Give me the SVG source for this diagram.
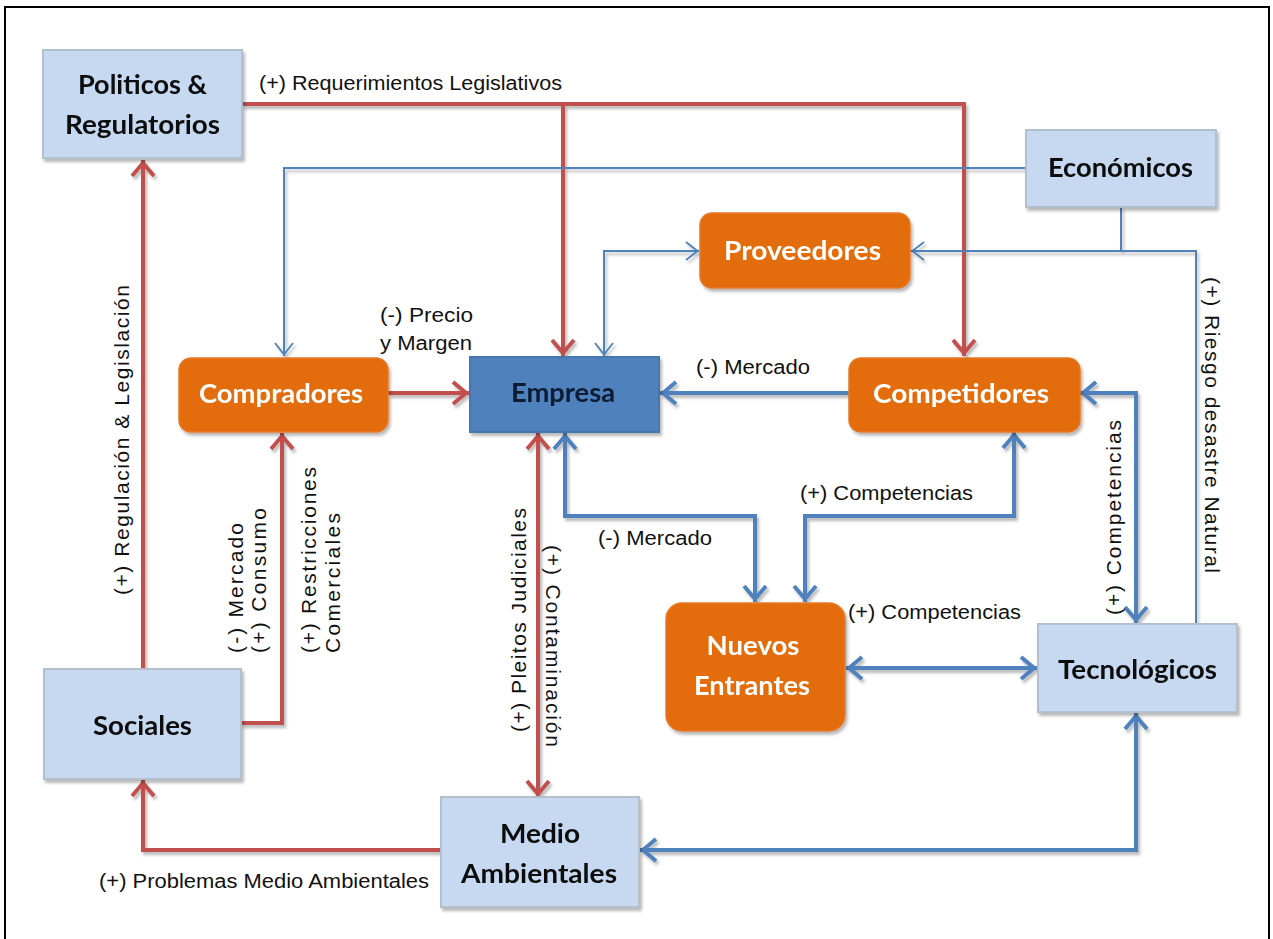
<svg xmlns="http://www.w3.org/2000/svg" width="1273" height="939" viewBox="0 0 1273 939">
  <style>
    .box-light { fill: #c6d9f1; stroke: #b4bfcc; stroke-width: 2; }
    .box-core { fill: #4f81bd; stroke: #4676b0; stroke-width: 2; }
    .box-orange { fill: #e36c0a; stroke: #e6782a; stroke-width: 1.5; }
    .t-dark { font-family: Lato, "Liberation Sans", sans-serif; font-weight: bold; font-size: 26px; fill: #0d0d0d; text-anchor: middle; }
    .t-core { font-family: Lato, "Liberation Sans", sans-serif; font-weight: bold; font-size: 26px; fill: #0b1a33; text-anchor: middle; }
    .t-white { font-family: Lato, "Liberation Sans", sans-serif; font-weight: bold; font-size: 26px; fill: #ffffff; text-anchor: middle; }
    .lbl { font-family: "Liberation Sans", Arial, sans-serif; font-size: 20px; fill: #111; }
    .vlbl { font-family: "Liberation Sans", Arial, sans-serif; font-size: 21px; fill: #111; }
    .red { fill: none; stroke: #c0504d; stroke-width: 4; }
    .blue { fill: none; stroke: #4f81bd; stroke-width: 4; }
    .thin { fill: none; stroke: #4f81bd; stroke-width: 2; }
  </style>
  <defs>
    <filter id="sh" filterUnits="userSpaceOnUse" x="0" y="0" width="1273" height="939">
      <feDropShadow dx="2" dy="3" stdDeviation="1.6" flood-color="#000" flood-opacity="0.28"/>
    </filter>
    <marker id="aRed" markerUnits="userSpaceOnUse" viewBox="-20 -15 30 30" markerWidth="30" markerHeight="30" refX="0" refY="0" orient="auto-start-reverse" overflow="visible">
      <path d="M-16,-11 L-3,0 L-16,11" fill="none" stroke="#c0504d" stroke-width="4"/>
    </marker>
    <marker id="aBlue" markerUnits="userSpaceOnUse" viewBox="-20 -15 30 30" markerWidth="30" markerHeight="30" refX="0" refY="0" orient="auto-start-reverse" overflow="visible">
      <path d="M-16,-11 L-3,0 L-16,11" fill="none" stroke="#4f81bd" stroke-width="4"/>
    </marker>
    <marker id="aThin" markerUnits="userSpaceOnUse" viewBox="-20 -15 30 30" markerWidth="30" markerHeight="30" refX="0" refY="0" orient="auto-start-reverse" overflow="visible">
      <path d="M-13,-9 L-1.5,0 L-13,9" fill="none" stroke="#4f81bd" stroke-width="1.8"/>
    </marker>
  </defs>

  <rect width="1273" height="939" fill="#ffffff"/>
  <!-- outer frame -->
  <rect x="5" y="7" width="1264" height="945" fill="none" stroke="#000" stroke-width="2"/>

  <!-- connectors -->
  <g id="connectors" filter="url(#sh)">
    <!-- red influences -->
    <path class="red" d="M242,104 H964 V356" marker-end="url(#aRed)"/>
    <path class="red" d="M563,104 V356" marker-end="url(#aRed)"/>
    <path class="red" d="M143,669 V160" marker-end="url(#aRed)"/>
    <path class="red" d="M241,723 H282 V433" marker-end="url(#aRed)"/>
    <path class="red" d="M388,393 H469" marker-end="url(#aRed)"/>
    <path class="red" d="M538,433 V797" stroke-width="3.5" marker-start="url(#aRed)" marker-end="url(#aRed)"/>
    <path class="red" d="M441,850 H143 V780" marker-end="url(#aRed)"/>
    <!-- blue thick influences -->
    <path class="blue" d="M849,393 H660" marker-end="url(#aBlue)"/>
    <path class="blue" d="M565,433 V516 H755 V602" marker-start="url(#aBlue)" marker-end="url(#aBlue)"/>
    <path class="blue" d="M1014,432 V516 H805 V602" marker-start="url(#aBlue)" marker-end="url(#aBlue)"/>
    <path class="blue" d="M846,668 H1037" marker-start="url(#aBlue)" marker-end="url(#aBlue)"/>
    <path class="blue" d="M1080,393 H1136 V623" marker-start="url(#aBlue)" marker-end="url(#aBlue)"/>
    <path class="blue" d="M1136,713 V850 H640" marker-start="url(#aBlue)" marker-end="url(#aBlue)"/>
    <!-- blue thin influences -->
    <path class="thin" d="M1026,168 H284 V356" marker-end="url(#aThin)"/>
    <path class="thin" d="M1121,207 V251"/>
    <path class="thin" d="M1196,624 V251 H911" marker-end="url(#aThin)"/>
    <path class="thin" d="M699,251 H604 V356" marker-start="url(#aThin)" marker-end="url(#aThin)"/>
  </g>

  <!-- connector labels -->
  <g id="labels">
    <text class="lbl" x="259" y="90" textLength="303" lengthAdjust="spacingAndGlyphs">(+) Requerimientos Legislativos</text>
    <text class="lbl" x="380" y="322" textLength="93" lengthAdjust="spacingAndGlyphs">(-) Precio</text>
    <text class="lbl" x="380" y="350" textLength="92" lengthAdjust="spacingAndGlyphs">y Margen</text>
    <text class="lbl" x="696" y="374" textLength="114" lengthAdjust="spacingAndGlyphs">(-) Mercado</text>
    <text class="lbl" x="598" y="545" textLength="114" lengthAdjust="spacingAndGlyphs">(-) Mercado</text>
    <text class="lbl" x="800" y="500" textLength="173" lengthAdjust="spacingAndGlyphs">(+) Competencias</text>
    <text class="lbl" x="848" y="619" textLength="173" lengthAdjust="spacingAndGlyphs">(+) Competencias</text>
    <text class="lbl" x="99" y="888" textLength="330" lengthAdjust="spacingAndGlyphs">(+) Problemas Medio Ambientales</text>

    <text class="vlbl" transform="translate(129,595) rotate(-90)" textLength="310" lengthAdjust="spacing">(+) Regulación &amp; Legislación</text>
    <text class="vlbl" transform="translate(243,653) rotate(-90)" textLength="130" lengthAdjust="spacing">(-) Mercado</text>
    <text class="vlbl" transform="translate(266,653) rotate(-90)" textLength="145" lengthAdjust="spacing">(+) Consumo</text>
    <text class="vlbl" transform="translate(316,653) rotate(-90)" textLength="186" lengthAdjust="spacing">(+) Restricciones</text>
    <text class="vlbl" transform="translate(340,653) rotate(-90)" textLength="140" lengthAdjust="spacing">Comerciales</text>
    <text class="vlbl" transform="translate(526,732) rotate(-90)" textLength="224" lengthAdjust="spacing">(+) Pleitos Judiciales</text>
    <text class="vlbl" transform="translate(546,545) rotate(90)" textLength="202" lengthAdjust="spacing">(+) Contaminación</text>
    <text class="vlbl" transform="translate(1121,615) rotate(-90)" textLength="195" lengthAdjust="spacing">(+) Competencias</text>
    <text class="vlbl" transform="translate(1205,277) rotate(90)" textLength="296" lengthAdjust="spacing">(+) Riesgo desastre Natural</text>
  </g>

  <!-- nodes -->
  <g id="politicos" filter="url(#sh)">
    <rect class="box-light" x="43" y="50" width="199" height="108"/>
    <text class="t-dark" x="142.5" y="94" textLength="129" lengthAdjust="spacingAndGlyphs">Politicos &amp;</text>
    <text class="t-dark" x="142.5" y="134" textLength="155" lengthAdjust="spacingAndGlyphs">Regulatorios</text>
  </g>
  <g id="economicos" filter="url(#sh)">
    <rect class="box-light" x="1026" y="130" width="190" height="77"/>
    <text class="t-dark" x="1120.5" y="177" textLength="145" lengthAdjust="spacingAndGlyphs">Económicos</text>
  </g>
  <g id="proveedores" filter="url(#sh)">
    <rect class="box-orange" x="700" y="213" width="210" height="75" rx="12"/>
    <text class="t-white" x="802.5" y="260" textLength="157" lengthAdjust="spacingAndGlyphs">Proveedores</text>
  </g>
  <g id="compradores" filter="url(#sh)">
    <rect class="box-orange" x="179" y="358" width="209" height="74" rx="12"/>
    <text class="t-white" x="281" y="403" textLength="164" lengthAdjust="spacingAndGlyphs">Compradores</text>
  </g>
  <g id="empresa" filter="url(#sh)">
    <rect class="box-core" x="470" y="357" width="189" height="75"/>
    <text class="t-core" x="563" y="402" textLength="104" lengthAdjust="spacingAndGlyphs">Empresa</text>
  </g>
  <g id="competidores" filter="url(#sh)">
    <rect class="box-orange" x="849" y="358" width="231" height="74" rx="12"/>
    <text class="t-white" x="961" y="403" textLength="176" lengthAdjust="spacingAndGlyphs">Competidores</text>
  </g>
  <g id="nuevos-entrantes" filter="url(#sh)">
    <rect class="box-orange" x="666" y="603" width="179" height="128" rx="16"/>
    <text class="t-white" x="753" y="655" textLength="93" lengthAdjust="spacingAndGlyphs">Nuevos</text>
    <text class="t-white" x="752" y="695" textLength="116" lengthAdjust="spacingAndGlyphs">Entrantes</text>
  </g>
  <g id="tecnologicos" filter="url(#sh)">
    <rect class="box-light" x="1038" y="624" width="199" height="88"/>
    <text class="t-dark" x="1137.5" y="679" textLength="159" lengthAdjust="spacingAndGlyphs">Tecnológicos</text>
  </g>
  <g id="sociales" filter="url(#sh)">
    <rect class="box-light" x="44" y="669" width="197" height="110"/>
    <text class="t-dark" x="142.5" y="735" textLength="99" lengthAdjust="spacingAndGlyphs">Sociales</text>
  </g>
  <g id="medio-ambientales" filter="url(#sh)">
    <rect class="box-light" x="441" y="797" width="198" height="110"/>
    <text class="t-dark" x="540" y="843" textLength="80" lengthAdjust="spacingAndGlyphs">Medio</text>
    <text class="t-dark" x="539" y="883" textLength="156" lengthAdjust="spacingAndGlyphs">Ambientales</text>
  </g>
</svg>
